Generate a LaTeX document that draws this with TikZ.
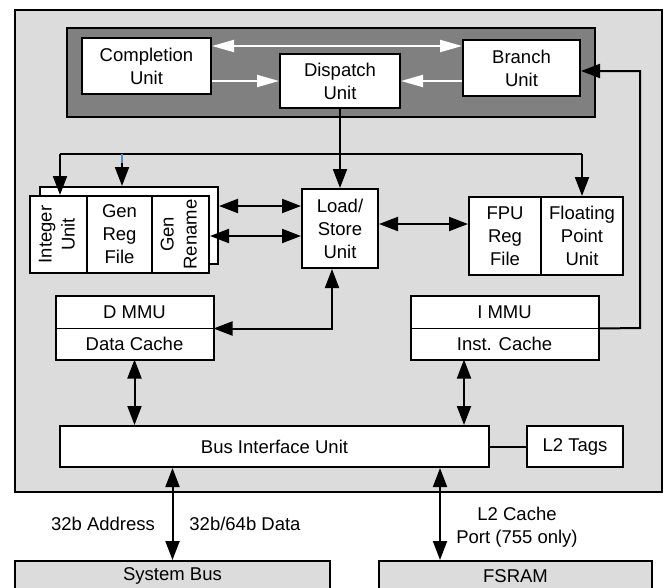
\documentclass[tikz,border=0pt]{standalone}
\usepackage{fontspec}
\setmainfont{Liberation Sans}
\usetikzlibrary{arrows.meta, positioning}
\definecolor{chipgray}{RGB}{220,220,220}
\definecolor{coregray}{RGB}{128,128,128}
\definecolor{tapblue}{RGB}{80,140,200}

\tikzset{
  unit/.style={draw, fill=white, line width=2pt, align=center, inner sep=0pt,
    font=\fontsize{18.5}{23}\selectfont},
  half/.style={unit, line width=1pt},
  lbl/.style={align=center, font=\fontsize{18.5}{23}\selectfont},
  arr/.style={line width=2pt, -{Triangle[length=19pt,width=14pt]}},
  darr/.style={line width=2pt, {Triangle[length=19pt,width=14pt]}-{Triangle[length=19pt,width=14pt]}},
  warr/.style={white, line width=2pt, -{Triangle[length=22pt,width=12pt]}},
  dwarr/.style={white, line width=2pt, {Triangle[length=22pt,width=12pt]}-{Triangle[length=22pt,width=12pt]}}
}

\newcommand{\rottext}[1]{\rotatebox{90}{\begin{tabular}{@{}c@{}}#1\end{tabular}}}

\begin{document}
\begin{tikzpicture}[x=1pt, y=-1pt]
    \useasboundingbox (0,0) rectangle (668,587);

    % Chip outline and core
    \draw[fill=chipgray, line width=2pt] (15,10) rectangle (662,492);
    \draw[fill=coregray, line width=2pt] (67,28) rectangle (595,117);

    % Core units
    \node[unit, minimum width=129, minimum height=56] (comp) at (146.5,66) {Completion\\Unit};
    \node[unit, minimum width=120, minimum height=54] (disp) at (340,81) {Dispatch\\Unit};
    \node[unit, minimum width=117, minimum height=56] (branch) at (521.5,68) {Branch\\Unit};

    % Integer side
    \node[unit, minimum width=178, minimum height=77] (intshadow) at (129,225.5) {};
    \node[unit, minimum width=57, minimum height=77] (intu) at (58.5,234.5) {\rottext{Integer\\Unit}};
    \node[unit, minimum width=65, minimum height=77] (genreg) at (119.5,234.5) {Gen\\Reg\\File};
    \node[unit, minimum width=57, minimum height=77] (genren) at (180.5,234.5) {\rottext{Gen\\Rename}};

    \node[unit, minimum width=76, minimum height=79] (ls) at (340,228.5) {Load/\\Store\\Unit};

    % Floating point side
    \node[unit, minimum width=72, minimum height=78] (fpureg) at (505,236) {FPU\\Reg\\File};
    \node[unit, minimum width=82, minimum height=78] (flpu) at (582,236) {Floating\\Point\\Unit};

    % MMUs and caches
    \node[half, minimum width=157, minimum height=32] (dmmu) at (134.5,312) {D MMU};
    \node[half, minimum width=157, minimum height=31] (dcache) at (134.5,343.5) {Data Cache};
    \draw[line width=2pt] (dmmu.north west) rectangle (dcache.south east);
    \node[half, minimum width=187, minimum height=32] (immu) at (504.5,312) {I MMU};
    \node[half, minimum width=187, minimum height=31] (icache) at (504.5,343.5) {Inst. Cache};
    \draw[line width=2pt] (immu.north west) rectangle (icache.south east);

    \node[unit, minimum width=429, minimum height=41] (biu) at (274.5,446.5) {Bus Interface Unit};
    \node[unit, minimum width=96, minimum height=41] (l2tags) at (575,446.5) {L2 Tags};

    % Outside the chip
    \node[unit, fill=chipgray, minimum width=315, minimum height=30] (sysbus) at (172.5,576) {System Bus};
    \node[unit, fill=chipgray, minimum width=273, minimum height=30] (fsram) at (515.5,576) {FSRAM};

    % Core arrows
    \draw[dwarr] (comp.east |- 0,46) -- (branch.west |- 0,46);
    \draw[warr] (comp.east |- disp.west) -- (disp.west);
    \draw[warr] (branch.west |- disp.east) -- (disp.east);

    % Dispatch bus
    \coordinate (busl) at (60,154);
    \coordinate (busm) at (122,154);
    \coordinate (busr) at (582,154);
    \draw[line width=2pt] (busl) -- (busr);
    \draw[arr] (disp.south) -- (ls.north);
    \draw[arr] (busl) -- (busl |- genreg.north);
    \draw[arr] (busm) -- (busm |- intshadow.north);
    \draw[tapblue, line width=2pt] (busm) -- ++(0,9);
    \draw[arr] (busr) -- (flpu.north);

    % Load/store connections
    \draw[darr] (intshadow.east |- 0,206) -- (ls.west |- 0,206);
    \draw[darr] (genren.east |- 0,236) -- (ls.west |- 0,236);
    \draw[darr] (ls.east |- 0,224) -- (fpureg.west |- 0,224);
    \draw[darr] ([xshift=-8pt]ls.south) |- (dmmu.south east);

    % Instruction fetch path
    \coordinate (fetch) at (640,328);
    \draw[arr] (immu.south east) -- (fetch) |- ([yshift=-3pt]branch.east);

    % Caches to bus interface
    \draw[darr] (dcache.south) -- (dcache.south |- biu.north);
    \draw[darr] ([xshift=-40.5pt]icache.south) -- ([xshift=-40.5pt]icache.south |- biu.north);
    \draw[line width=2pt] (biu.east |- l2tags.west) -- (l2tags.west);

    % External buses
    \draw[darr] (sysbus.north |- biu.south) -- (sysbus.north);
    \draw[darr] ([xshift=-75.5pt]fsram.north |- biu.south) -- ([xshift=-75.5pt]fsram.north);
    \node[lbl] (addr) at (103,524) {32b Address};
    \node[lbl] (data) at (245,524) {32b/64b Data};
    \node[lbl] (l2port) at (517,527) {L2 Cache\\Port (755 only)};
\end{tikzpicture}
\end{document}
